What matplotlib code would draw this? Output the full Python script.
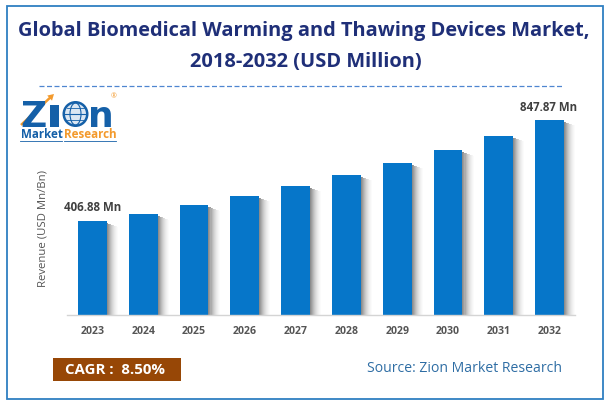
import matplotlib
matplotlib.use("Agg")
import matplotlib.pyplot as plt
from matplotlib.patches import Rectangle, Circle, Ellipse, FancyArrow

W, H = 609, 404

years = ["2023", "2024", "2025", "2026", "2027", "2028", "2029", "2030", "2031", "2032"]
revenue = [406.88, 438, 477, 517, 560, 608, 660, 716, 779, 847.87]
first_label = "406.88 Mn"
last_label = "847.87 Mn"

plt.rcParams['font.family'] = ['Open Sans', 'DejaVu Sans']

fig = plt.figure(figsize=(W / 100, H / 100), dpi=100, facecolor="white")

# overlay in pixel coordinates for frame, title and logo
bg = fig.add_axes([0, 0, 1, 1])
bg.set_xlim(0, W)
bg.set_ylim(H, 0)
bg.axis("off")
bg.add_patch(Rectangle((6.5, 5.5), 596, 393, fill=False, ec="#2f7fc1", lw=1.3))

navy = "#1f2f78"
bg.text(304, 31, "Global Biomedical Warming and Thawing Devices Market,", ha="center", va="center",
        fontsize=14.45, fontweight="bold", color=navy)
bg.text(306, 62, "2018-2032 (USD Million)", ha="center", va="center",
        fontsize=14.45, fontweight="bold", color=navy)
bg.plot([39, 562], [86, 86], color="#4f86d0", lw=0.9, dashes=(4, 2))

# logo
blue = "#1560a8"
orange = "#f39a2d"
bg.text(20, 127, "Z", fontsize=26, fontweight="bold", family="DejaVu Sans", color=blue, ha="left", va="baseline")
bg.add_patch(Rectangle((50, 105), 9, 22, fc=blue, ec="none"))
bg.add_patch(Circle((75.5, 114), 13, fc=blue, ec="none"))
bg.add_patch(Circle((75.5, 114), 10.5, fc="#dbe7f3", ec="none"))
bg.add_patch(Ellipse((75.5, 114), 11, 22, fill=False, ec=blue, lw=0.8))
bg.plot([65, 86], [114, 114], color=blue, lw=0.8)
bg.plot([67, 84], [108, 108], color=blue, lw=0.6)
bg.plot([67, 84], [120, 120], color=blue, lw=0.6)
bg.text(88, 127, "n", fontsize=26, fontweight="bold", family="DejaVu Sans", color=blue, ha="left", va="baseline")
bg.add_patch(FancyArrow(21, 125, 33, -31, width=2.5, head_width=7, head_length=6,
                        length_includes_head=True, fc=orange, ec="none"))
bg.text(114, 97, "®", fontsize=5, color=orange, ha="center", va="center")
bg.text(21, 135, "Market", fontsize=8.4, fontweight="bold", color=blue, ha="left", va="center")
bg.text(64, 135, "Research", fontsize=8.4, fontweight="bold", color=orange, ha="left", va="center")
bg.plot([20, 62], [141, 141], color=blue, lw=0.6)
bg.plot([64, 116], [141, 141], color=blue, lw=0.6)

# cagr box and source
bg.add_patch(Rectangle((53, 358), 128, 23, fc="#974706", ec="none"))
bg.text(65, 370, "CAGR :  8.50%", fontsize=10.8, fontweight="bold", color="white", ha="left", va="center")
bg.text(562, 368, "Source: Zion Market Research", fontsize=10.1, color="#2e6da4", ha="right", va="center")

# chart
ax = fig.add_axes([67 / W, 1 - 315 / H, 508 / W, 207 / H])
ax.patch.set_alpha(0)
ax.set_xlim(-0.5, 9.5)
ax.set_ylim(0, 900)

positions = range(len(years))
bar_w = 0.57
# soft grey shadow on the right side of each bar
shades = ["#8c8c8c", "#9c9c9c", "#acacac", "#bcbcbc", "#cacaca", "#d6d6d6", "#e0e0e0", "#e9e9e9", "#f0f0f0", "#f6f6f6", "#fbfbfb"]
for step, shade in enumerate(shades):
    shift = bar_w / 2 + (step + 0.5) * 0.02
    ax.bar([p + shift for p in positions], [v - 8 - 1.5 * step for v in revenue], width=0.021,
           color=shade, linewidth=0, zorder=1)
ax.bar(positions, revenue, width=bar_w, color="#0676c9", linewidth=0, zorder=2)

ax.set_xticks(list(positions), years)
ax.set_yticks([])
ax.tick_params(axis="x", length=0, pad=8, labelsize=7.6, labelcolor="#555555")
for lab in ax.get_xticklabels():
    lab.set_fontweight("bold")
for side in ["top", "right", "left"]:
    ax.spines[side].set_visible(False)
ax.spines["bottom"].set_color("#d4d4d4")
ax.spines["bottom"].set_linewidth(1)
ax.set_ylabel("Revenue (USD Mn/Bn)", fontsize=8.2, color="#555555")
ax.yaxis.set_label_coords(-0.037, 0.42)

ax.annotate(first_label, (0, revenue[0]), xytext=(0.5, 5.5), textcoords="offset points", ha="center", va="bottom",
            fontsize=8.3, fontweight="bold", color="#404040")
ax.annotate(last_label, (9, revenue[-1]), xytext=(-1, 4), textcoords="offset points", ha="center", va="bottom",
            fontsize=8.3, fontweight="bold", color="#404040")

fig.savefig("out.png", dpi=100)
